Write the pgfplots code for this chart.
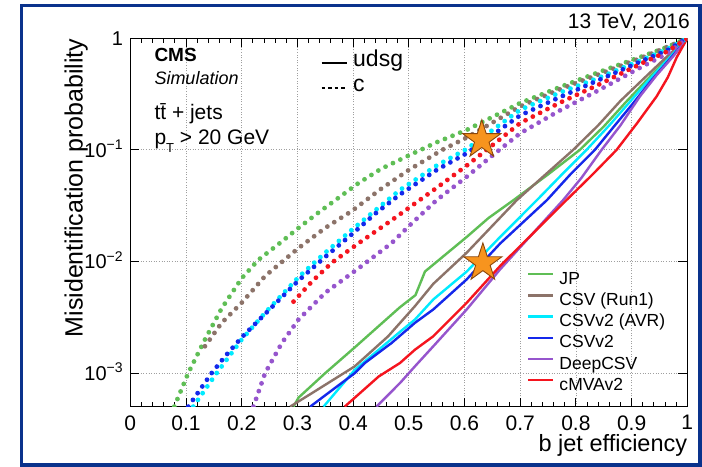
\documentclass[border=0pt]{standalone}
\usepackage{fontspec}
\setmainfont{Liberation Sans}
\usepackage{pgfplots}
\pgfplotsset{compat=1.18}
\definecolor{cjp}{RGB}{95,190,85}
\definecolor{ccsv}{RGB}{140,115,105}
\definecolor{cavr}{RGB}{0,235,255}
\definecolor{cv2}{RGB}{20,40,235}
\definecolor{cdeep}{RGB}{150,85,205}
\definecolor{ccmva}{RGB}{245,20,30}
\definecolor{frameblue}{RGB}{10,50,140}
\definecolor{starfill}{RGB}{247,148,30}
\definecolor{stardraw}{RGB}{140,70,10}
\pgfdeclareplotmark{fivestar}{%
  \pgfpathmoveto{\pgfpointpolar{90}{\pgfplotmarksize}}%
  \pgfpathlineto{\pgfpointpolar{126}{0.382\pgfplotmarksize}}%
  \pgfpathlineto{\pgfpointpolar{162}{\pgfplotmarksize}}%
  \pgfpathlineto{\pgfpointpolar{198}{0.382\pgfplotmarksize}}%
  \pgfpathlineto{\pgfpointpolar{234}{\pgfplotmarksize}}%
  \pgfpathlineto{\pgfpointpolar{270}{0.382\pgfplotmarksize}}%
  \pgfpathlineto{\pgfpointpolar{306}{\pgfplotmarksize}}%
  \pgfpathlineto{\pgfpointpolar{342}{0.382\pgfplotmarksize}}%
  \pgfpathlineto{\pgfpointpolar{18}{\pgfplotmarksize}}%
  \pgfpathlineto{\pgfpointpolar{54}{0.382\pgfplotmarksize}}%
  \pgfpathclose
  \pgfusepathqfillstroke}
\tikzset{
  udsg/.style={line width=2.4bp},
  cdot/.style={line width=4.8bp, line cap=round, dash pattern=on 0bp off 8.2bp},
}
\begin{document}
\begin{tikzpicture}[x=1bp,y=1bp]
\useasboundingbox (0,0) rectangle (702,467);
\fill[white] (0,0) rectangle (702,467);
\draw[frameblue, line width=3.5bp] (21.5,2.2) rectangle (700.2,461.5);
\begin{axis}[
  at={(130.3bp,60.3bp)}, anchor=south west,
  scale only axis, width=557bp, height=368.4bp,
  xmin=0, xmax=1, ymin=5e-4, ymax=1, ymode=log, log basis y=10,
  xtick={0,0.1,0.2,0.3,0.4,0.5,0.6,0.7,0.8,0.9,1},
  xticklabels={0,0.1,0.2,0.3,0.4,0.5,0.6,0.7,0.8,0.9,1},
  minor x tick num=4,
  ytick={0.001,0.01,0.1,1},
  yticklabels={10\textsuperscript{−3},10\textsuperscript{−2},10\textsuperscript{−1},1},
  tick align=inside,
  major tick length=9bp, minor tick length=5bp,
  every tick/.style={black, line width=0.9bp},
  axis line style={line width=1.1bp},
  grid=major,
  major grid style={gray!75, line width=0.8bp, dash pattern=on 1bp off 1.6bp},
  xticklabel style={font=\fontsize{21bp}{25bp}\selectfont, inner sep=0pt, yshift=-8.5bp},
  yticklabel style={font=\fontsize{20bp}{24bp}\selectfont, inner sep=0pt, anchor=base east, xshift=-7bp, yshift=-7.3bp},
  xlabel={b jet efficiency},
  ylabel={Misidentification probability},
  xlabel style={at={(axis description cs:1,0)}, anchor=base east, inner sep=0pt, yshift=-44.5bp, font=\fontsize{23.5bp}{28bp}\selectfont},
  ylabel style={at={(axis description cs:-0.0858,1)}, anchor=base east, inner sep=0pt, font=\fontsize{25bp}{30bp}\selectfont},
  legend style={at={(axis description cs:0.712,0.368)}, anchor=north west, draw=none, fill=none,
    font=\fontsize{17.5bp}{21bp}\selectfont, inner sep=0pt, row sep=4.6bp, column sep=5bp,
    nodes={inner sep=0pt, text height=13bp, text depth=3.6bp}},
  legend cell align=left,
  legend image code/.code={\draw[#1] (0bp,5.5bp) -- (25bp,5.5bp);},
]
% ---------- udsg (solid) ----------
\addplot[udsg, cjp] coordinates {(0.293,0.000501) (0.302,0.000603) (0.35,0.001) (0.403,0.0017) (0.45,0.00275) (0.484,0.00389) (0.512,0.00500) (0.529,0.00813) (0.604,0.0166) (0.643,0.0245) (0.688,0.0355) (0.75,0.0603) (0.807,0.1) (0.85,0.162) (0.89,0.269) (0.93,0.437) (0.965,0.661) (1,1)};
\addlegendentry{JP}
\addplot[udsg, ccsv] coordinates {(0.287,0.000501) (0.326,0.000661) (0.403,0.00115) (0.463,0.00214) (0.511,0.00398) (0.544,0.00631) (0.604,0.012) (0.694,0.0355) (0.75,0.0631) (0.795,0.1) (0.84,0.166) (0.88,0.275) (0.92,0.427) (0.96,0.661) (1,1)};
\addlegendentry{CSV (Run1)}
\addplot[udsg, cavr] coordinates {(0.347,0.000501) (0.403,0.00107) (0.484,0.00234) (0.511,0.00302) (0.544,0.00457) (0.604,0.00813) (0.664,0.0166) (0.730,0.0355) (0.775,0.0603) (0.819,0.1) (0.86,0.166) (0.895,0.263) (0.93,0.417) (0.965,0.646) (1,1)};
\addlegendentry{CSVv2 (AVR)}
\addplot[udsg, cv2] coordinates {(0.323,0.000501) (0.403,0.001) (0.421,0.00123) (0.469,0.00186) (0.511,0.00282) (0.544,0.00372) (0.604,0.00692) (0.664,0.0145) (0.748,0.0355) (0.79,0.0603) (0.834,0.1) (0.87,0.166) (0.903,0.263) (0.935,0.417) (0.968,0.646) (1,1)};
\addlegendentry{CSVv2}
\addplot[udsg, cdeep] coordinates {(0.442,0.000501) (0.484,0.000813) (0.511,0.00115) (0.544,0.00174) (0.604,0.00372) (0.664,0.00851) (0.777,0.0355) (0.81,0.0562) (0.846,0.1) (0.88,0.166) (0.915,0.302) (0.945,0.468) (0.975,0.692) (1,1)};
\addlegendentry{DeepCSV}
\addplot[udsg, ccmva] coordinates {(0.385,0.000501) (0.446,0.000933) (0.484,0.00123) (0.511,0.00162) (0.544,0.00214) (0.604,0.00427) (0.664,0.00912) (0.783,0.0355) (0.83,0.0603) (0.873,0.1) (0.91,0.174) (0.945,0.302) (0.965,0.447) (0.981,0.676) (1,1)};
\addlegendentry{cMVAv2}
% ---------- c (dotted) ----------
\addplot[cdot, cjp, forget plot] coordinates {(0.079,0.000501) (0.104,0.001) (0.134,0.002) (0.164,0.0038) (0.2,0.00708) (0.23,0.01035) (0.272,0.0151) (0.302,0.02) (0.338,0.0275) (0.409,0.0501) (0.45,0.0676) (0.5,0.0891) (0.55,0.117) (0.604,0.151) (0.70,0.263) (0.77,0.363) (0.843,0.501) (0.92,0.692) (0.963,0.832) (1,1)};
\addplot[cdot, ccsv, forget plot] coordinates {(0.134,0.00174) (0.164,0.00282) (0.2,0.00427) (0.242,0.00741) (0.302,0.0132) (0.35,0.02) (0.397,0.0282) (0.45,0.0447) (0.5,0.0661) (0.56,0.1) (0.604,0.129) (0.70,0.245) (0.77,0.347) (0.843,0.479) (0.92,0.676) (0.963,0.832) (1,1)};
\addplot[cdot, cavr, forget plot] coordinates {(0.113,0.000501) (0.155,0.001) (0.2,0.002) (0.242,0.00347) (0.302,0.00724) (0.35,0.012) (0.397,0.0191) (0.44,0.0288) (0.484,0.0437) (0.55,0.0724) (0.604,0.102) (0.70,0.229) (0.77,0.324) (0.843,0.447) (0.92,0.646) (0.963,0.794) (1,1)};
\addplot[cdot, cv2, forget plot] coordinates {(0.104,0.000501) (0.146,0.001) (0.17,0.00141) (0.2,0.00209) (0.242,0.00339) (0.302,0.00676) (0.35,0.011) (0.397,0.0174) (0.44,0.0269) (0.484,0.0398) (0.55,0.0661) (0.604,0.0933) (0.70,0.204) (0.77,0.295) (0.843,0.427) (0.92,0.631) (0.963,0.776) (1,1)};
\addplot[cdot, cdeep, forget plot] coordinates {(0.221,0.000501) (0.242,0.001) (0.272,0.00186) (0.302,0.00302) (0.35,0.00525) (0.41,0.00871) (0.469,0.0146) (0.505,0.0219) (0.55,0.0355) (0.604,0.0575) (0.65,0.0891) (0.70,0.141) (0.77,0.224) (0.843,0.347) (0.92,0.562) (0.963,0.724) (1,1)};
\addplot[cdot, ccmva, forget plot] coordinates {(0.293,0.00437) (0.326,0.00661) (0.362,0.00977) (0.41,0.0146) (0.469,0.0234) (0.55,0.0457) (0.604,0.0724) (0.65,0.11) (0.70,0.174) (0.77,0.263) (0.843,0.389) (0.92,0.603) (0.963,0.759) (1,1)};
% ---------- stars ----------
\addplot[only marks, mark=fivestar, mark size=20bp, mark options={fill=starfill, draw=stardraw, line width=0.9bp}, forget plot] coordinates {(0.631,0.123) (0.633,0.0097)};
\end{axis}
% annotations
\node[anchor=base east, inner sep=0pt, font=\fontsize{21bp}{25bp}\selectfont] at (690,438.7) {13 TeV, 2016};
\node[anchor=base west, inner sep=0pt, font=\fontsize{19bp}{23bp}\selectfont\bfseries] at (154.3,405.3) {CMS};
\node[anchor=base west, inner sep=0pt, font=\fontsize{18bp}{22bp}\selectfont\itshape] at (154.3,382.7) {Simulation};
\node[anchor=base west, inner sep=0pt, font=\fontsize{21bp}{25bp}\selectfont] at (154.3,347) {t\={t} + jets};
\node[anchor=base west, inner sep=0pt, font=\fontsize{21bp}{25bp}\selectfont] at (154.3,322) {p\raisebox{-0.35em}{\fontsize{13bp}{15bp}\selectfont T} > 20 GeV};
\draw[black, line width=2bp] (321.7,403.7) -- (346.7,403.7);
\draw[black, line width=2bp, dash pattern=on 3.5bp off 3bp] (321.7,378.7) -- (346.7,378.7);
\node[anchor=base west, inner sep=0pt, font=\fontsize{23bp}{27bp}\selectfont] at (353,400.3) {udsg};
\node[anchor=base west, inner sep=0pt, font=\fontsize{23bp}{27bp}\selectfont] at (353,375.3) {c};
\end{tikzpicture}
\end{document}
